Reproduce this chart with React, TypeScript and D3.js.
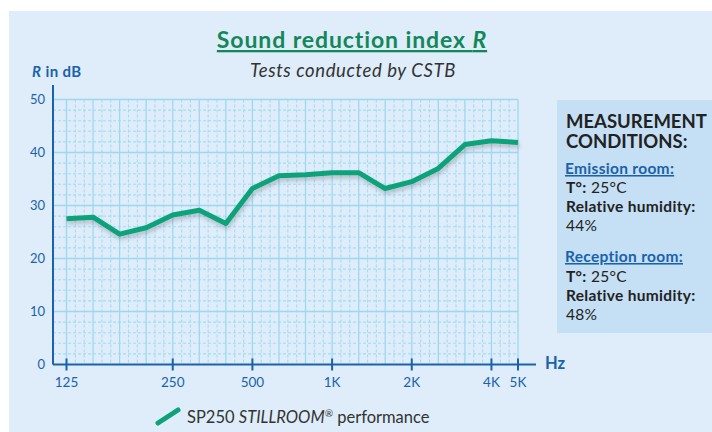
import React from "react";
import * as d3 from "d3";

// third-octave bands measured, in Hz
const bands = ["100", "125", "160", "200", "250", "315", "400", "500", "630", "800", "1000", "1250", "1600", "2000", "2500", "3150", "4000", "5000"];
// SP250 STILLROOM, R in dB
const reduction = [27.5, 27.8, 24.6, 25.8, 28.2, 29.1, 26.6, 33.2, 35.6, 35.8, 36.2, 36.2, 33.2, 34.5, 37.0, 41.5, 42.2, 41.9];
// labelled ticks on the frequency axis (as printed on the original)
const xTickBands = ["100", "250", "500", "1000", "2000", "4000", "5000"];
const xTickLabels = ["125", "250", "500", "1K", "2K", "4K", "5K"];
const yTicks = [0, 10, 20, 30, 40, 50];

const W = 712;
const H = 432;
const FONT = "Lato, 'Open Sans', sans-serif";
const BLUE = "#1a62ab";
const GREEN = "#0da37a";
const GRID = "#9dd8f3";
const GRID_MINOR = "#a3dcf6";

const App = () => {
  const x = d3.scalePoint<string>().domain(bands).range([66.5, 518]);
  const y = d3.scaleLinear().domain([0, 50]).range([364.5, 99.5]);
  const step = x.step();

  const yMinor = d3.range(2, 50, 2).filter((v) => v % 10 !== 0);
  const xMinor: number[] = [];
  bands.slice(0, -1).forEach((b) => {
    xMinor.push(x(b)! + step / 3, x(b)! + (2 * step) / 3);
  });

  const line = d3
    .line<number>()
    .x((_, i) => x(bands[i])!)
    .y((d) => y(d));

  const x0 = 53;
  const x1 = x(bands[bands.length - 1])!;

  return (
    <svg width={W} height={H} style={{ position: "absolute", left: 0, top: 0 }} fontFamily={FONT}>
      <defs>
        <filter id="shadow" x="-5%" y="-20%" width="110%" height="150%">
          <feDropShadow dx="1" dy="3" stdDeviation="2" floodColor="#445" floodOpacity="0.3" />
        </filter>
      </defs>
      <rect x={0} y={0} width={W} height={H} fill="#fff" />
      <rect x={9} y={11} width={W - 9} height={H - 11} fill="#deedf9" />

      {/* title */}
      <text x={352} y={48} textAnchor="middle" fontSize={23} fontWeight="bold" letterSpacing={0.9} fill="#13875a" textDecoration="underline">
        Sound reduction index <tspan fontStyle="italic">R</tspan>
      </text>
      <text x={353} y={77} textAnchor="middle" fontSize={18.5} fontStyle="italic" letterSpacing={0.6} fill="#333">
        Tests conducted by CSTB
      </text>
      <text x={32} y={77} fontSize={15} fontWeight="bold" letterSpacing={0.4} fill={BLUE}>
        <tspan fontStyle="italic">R</tspan> in dB
      </text>

      {/* grid */}
      <g>
        {yMinor.map((v) => (
          <line key={"ym" + v} x1={x0} x2={x1} y1={y(v)} y2={y(v)} stroke={GRID_MINOR} strokeWidth={1.1} strokeDasharray="3,2" />
        ))}
        {xMinor.map((v, i) => (
          <line key={"xm" + i} x1={v} x2={v} y1={y(50)} y2={y(0)} stroke={GRID_MINOR} strokeWidth={1.1} strokeDasharray="3,2" />
        ))}
        {yTicks.slice(1).map((v) => (
          <line key={"y" + v} x1={x0} x2={x1} y1={y(v)} y2={y(v)} stroke={GRID} strokeWidth={1.3} />
        ))}
        {bands.map((b) => (
          <line key={"x" + b} x1={x(b)} x2={x(b)} y1={y(50)} y2={y(0)} stroke={GRID} strokeWidth={1.3} />
        ))}
      </g>

      {/* axes */}
      <line x1={x0} x2={x0} y1={85} y2={y(0)} stroke={BLUE} strokeWidth={2} />
      <line x1={x0} x2={536} y1={y(0)} y2={y(0)} stroke={BLUE} strokeWidth={2} />
      {yTicks.map((v) => (
        <text key={"yl" + v} x={45} y={y(v)} dy="0.36em" textAnchor="end" fontSize={13} fill={BLUE}>
          {v}
        </text>
      ))}
      {xTickBands.map((b, i) => (
        <g key={"xt" + b}>
          <line x1={x(b)} x2={x(b)} y1={y(0) - 6} y2={y(0) + 6} stroke={BLUE} strokeWidth={2} />
          <text x={x(b)} y={387} textAnchor="middle" fontSize={13.5} fill={BLUE}>
            {xTickLabels[i]}
          </text>
        </g>
      ))}
      <text x={545} y={369} fontSize={16.5} fontWeight="bold" fill={BLUE}>
        Hz
      </text>

      {/* series */}
      <path d={line(reduction)!} fill="none" stroke={GREEN} strokeWidth={5} strokeLinejoin="round" filter="url(#shadow)" />

      {/* legend */}
      <line x1={158} y1={423} x2={178} y2={410} stroke={GREEN} strokeWidth={5} strokeLinecap="round" />
      <text x={187} y={423} fontSize={16.5} fill="#333">
        SP250 <tspan fontStyle="italic">STILLROOM</tspan>
        <tspan fontSize={10} dy={-6} fontStyle="italic">®</tspan>
        <tspan dy={6}>{" performance"}</tspan>
      </text>

      {/* measurement conditions */}
      <rect x={557} y={100} width={W - 557} height={233} fill="#c5dff4" />
      <g fill="#222" fontSize={15.5} letterSpacing={0.3}>
        <text x={566} y={128} fontSize={18.5} fontWeight="bold" letterSpacing={0}>
          <tspan x={566}>MEASUREMENT</tspan>
          <tspan x={566} dy={20}>CONDITIONS:</tspan>
        </text>
        <text x={565} y={174} fontWeight="bold" fill={BLUE} textDecoration="underline">Emission room:</text>
        <text x={566} y={193}><tspan fontWeight="bold">T°:</tspan> 25°C</text>
        <text x={566} y={212} fontWeight="bold">Relative humidity:</text>
        <text x={566} y={231}>44%</text>
        <text x={565} y={262} fontWeight="bold" fill={BLUE} textDecoration="underline">Reception room:</text>
        <text x={566} y={282}><tspan fontWeight="bold">T°:</tspan> 25°C</text>
        <text x={566} y={301} fontWeight="bold">Relative humidity:</text>
        <text x={566} y={320}>48%</text>
      </g>
    </svg>
  );
};

export default App;
